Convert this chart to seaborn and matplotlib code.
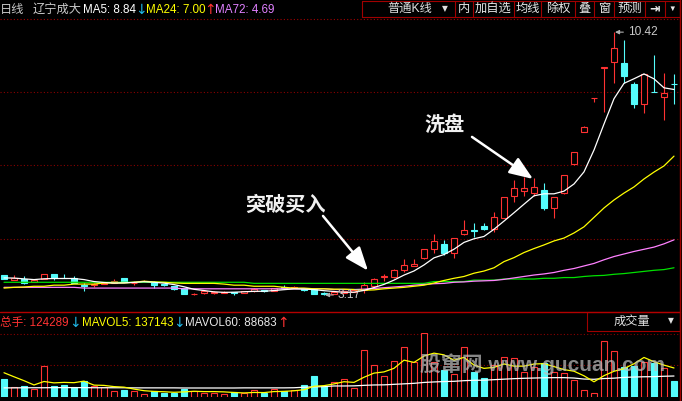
import numpy as np
import pandas as pd
import matplotlib
matplotlib.use("Agg")
import matplotlib.pyplot as plt
import seaborn as sns
from matplotlib.lines import Line2D
from matplotlib.patches import Rectangle

# =========================
# Data
# =========================
period_label = "日线"
stock_name = "辽宁成大"

opens = [3.71, 3.58, 3.62, 3.53, 3.62, 3.74, 3.65, 3.65, 3.45, 3.44,
         3.47, 3.51, 3.64, 3.50, 3.55, 3.53, 3.46, 3.42, 3.35, 3.19,
         3.22, 3.22, 3.23, 3.24, 3.23, 3.27, 3.31, 3.29, 3.39, 3.37,
         3.33, 3.34, 3.23, 3.20, 3.23, 3.26, 3.31, 3.43, 3.67, 3.66,
         3.86, 3.98, 4.18, 4.43, 4.58, 4.34, 4.84, 4.95, 5.07, 4.98,
         5.29, 5.90, 6.04, 5.99, 6.07, 5.56, 5.97, 6.77, 7.67, 8.59,
         9.44, 9.60, 9.58, 8.99, 8.44, 8.78, 8.62, 9.00]
highs = [3.72, 3.71, 3.69, 3.60, 3.76, 3.75, 3.74, 3.69, 3.51, 3.49,
         3.52, 3.60, 3.65, 3.56, 3.57, 3.56, 3.47, 3.43, 3.36, 3.22,
         3.30, 3.27, 3.27, 3.26, 3.28, 3.36, 3.32, 3.37, 3.44, 3.42,
         3.34, 3.35, 3.25, 3.25, 3.28, 3.33, 3.54, 3.65, 3.74, 3.89,
         4.16, 4.16, 4.44, 4.84, 4.69, 4.75, 5.24, 5.15, 5.15, 5.47,
         5.87, 6.34, 6.43, 6.39, 6.25, 5.87, 6.49, 7.11, 7.82, 8.59,
         9.46, 10.42, 10.20, 9.05, 9.27, 9.79, 9.30, 9.26]
lows = [3.60, 3.57, 3.47, 3.52, 3.61, 3.58, 3.63, 3.50, 3.27, 3.39,
        3.46, 3.50, 3.52, 3.44, 3.54, 3.36, 3.43, 3.32, 3.19, 3.18,
        3.21, 3.21, 3.22, 3.18, 3.22, 3.26, 3.26, 3.28, 3.34, 3.35,
        3.29, 3.19, 3.17, 3.19, 3.22, 3.25, 3.22, 3.42, 3.56, 3.65,
        3.79, 3.98, 4.17, 4.34, 4.27, 4.18, 4.83, 4.76, 4.95, 4.92,
        5.28, 5.74, 5.90, 5.90, 5.51, 5.30, 5.96, 6.75, 7.66, 8.50,
        8.22, 9.01, 9.01, 8.32, 8.20, 8.77, 8.01, 8.44]
closes = [3.60, 3.64, 3.51, 3.58, 3.75, 3.64, 3.64, 3.51, 3.43, 3.48,
          3.51, 3.56, 3.53, 3.51, 3.56, 3.44, 3.44, 3.33, 3.21, 3.21,
          3.27, 3.26, 3.26, 3.23, 3.27, 3.33, 3.27, 3.36, 3.35, 3.38,
          3.30, 3.20, 3.21, 3.24, 3.27, 3.31, 3.45, 3.60, 3.68, 3.86,
          4.00, 4.02, 4.43, 4.66, 4.32, 4.73, 4.96, 4.93, 4.98, 5.31,
          5.86, 6.11, 6.11, 6.14, 5.58, 5.86, 6.48, 7.10, 7.81, 8.59,
          9.45, 9.97, 9.22, 8.44, 9.26, 8.77, 8.73, 8.99]
prev_closes = [3.66, 3.62, 3.68, 3.64]   # 4 days before the window, for MA5

ma24 = [3.36, 3.38, 3.39, 3.41, 3.41, 3.44, 3.44, 3.47, 3.47, 3.47,
        3.50, 3.50, 3.50, 3.52, 3.55, 3.53, 3.52, 3.50, 3.49, 3.49,
        3.49, 3.49, 3.47, 3.44, 3.44, 3.41, 3.41, 3.41, 3.38, 3.36,
        3.36, 3.34, 3.34, 3.33, 3.33, 3.32, 3.30, 3.31, 3.34, 3.36,
        3.38, 3.41, 3.44, 3.50, 3.57, 3.63, 3.68, 3.77, 3.83, 3.92,
        4.09, 4.20, 4.34, 4.45, 4.55, 4.66, 4.74, 4.88, 5.05, 5.31,
        5.57, 5.79, 5.98, 6.15, 6.37, 6.56, 6.73, 7.00]
ma72 = [3.38, 3.38, 3.38, 3.38, 3.38, 3.38, 3.38, 3.38, 3.36, 3.36,
        3.36, 3.36, 3.36, 3.36, 3.36, 3.36, 3.36, 3.36, 3.34, 3.34,
        3.34, 3.34, 3.34, 3.34, 3.34, 3.34, 3.34, 3.34, 3.34, 3.34,
        3.34, 3.34, 3.34, 3.32, 3.32, 3.32, 3.33, 3.35, 3.37, 3.39,
        3.41, 3.44, 3.46, 3.48, 3.49, 3.52, 3.53, 3.55, 3.56, 3.57,
        3.60, 3.64, 3.68, 3.72, 3.75, 3.79, 3.85, 3.90, 3.97, 4.04,
        4.14, 4.23, 4.30, 4.37, 4.43, 4.49, 4.58, 4.69]
ma_long = [3.52, 3.52, 3.52, 3.52, 3.52, 3.52, 3.52, 3.52, 3.52, 3.52,
           3.52, 3.52, 3.52, 3.52, 3.52, 3.52, 3.52, 3.52, 3.52, 3.52,
           3.52, 3.52, 3.52, 3.52, 3.52, 3.49, 3.49, 3.49, 3.49, 3.49,
           3.49, 3.49, 3.49, 3.49, 3.49, 3.49, 3.49, 3.49, 3.49, 3.49,
           3.49, 3.49, 3.49, 3.54, 3.54, 3.54, 3.54, 3.58, 3.58, 3.58,
           3.61, 3.61, 3.61, 3.61, 3.63, 3.63, 3.65, 3.65, 3.68, 3.70,
           3.71, 3.74, 3.76, 3.79, 3.82, 3.85, 3.87, 3.92]

volumes = [140000, 74000, 85000, 61000, 243000, 85000, 93000, 74000, 122000, 85000,
           74000, 45000, 53000, 45000, 21000, 45000, 32000, 32000, 61000, 45000,
           32000, 32000, 21000, 37000, 27000, 51000, 27000, 61000, 45000, 51000,
           93000, 164000, 85000, 114000, 138000, 67000, 367000, 249000, 162000, 280000,
           391000, 277000, 502000, 277000, 211000, 177000, 391000, 196000, 148000, 251000,
           312000, 304000, 196000, 233000, 264000, 196000, 185000, 132000, 51000, 27000,
           439000, 359000, 238000, 243000, 277000, 269000, 225000, 124289]
prev_volumes = [234000, 240000, 231000, 105000]   # for MAVOL5
mavol60 = [70, 70, 71, 71, 71, 72, 72, 72, 72, 71,
           71, 71, 71, 70, 70, 70, 70, 70, 69, 69,
           69, 69, 69, 69, 70, 70, 70, 70, 70, 71,
           75, 78, 80, 85, 85, 86, 90, 93, 94, 98,
           102, 106, 113, 117, 120, 122, 127, 130, 131, 135,
           139, 143, 146, 148, 150, 151, 151, 148, 140, 138,
           144, 147, 153, 156, 158, 159, 162, 164]   # thousand lots

hdr_total = 124289
hdr_mavol5 = 137143
hdr_mavol60 = 88683

toolbar_labels = ["内", "加自选", "均线", "除权", "叠", "窗", "预测", "⇥", "▼"]
watermark = "股窜网 www.gucuan.com"

# =========================
# Frame
# =========================
df = pd.DataFrame({"idx": np.arange(len(closes)), "open": opens, "high": highs,
                   "low": lows, "close": closes, "ma24": ma24, "ma72": ma72,
                   "ma_long": ma_long, "vol": volumes,
                   "mavol60": np.array(mavol60) * 1000})
df["ma5"] = pd.Series(prev_closes + closes).rolling(5).mean().iloc[4:].values
df["mavol5"] = pd.Series(prev_volumes + volumes).rolling(5).mean().iloc[4:].values
df["up"] = df["close"] >= df["open"]

RED = "#ff3232"
CYAN = "#54fcfc"
YELLOW = "#ffff00"
PINK = "#ff80ff"
GREEN = "#00e000"
FRAME = "#a00000"
GRID = "#8a0000"
ARROW_DN = "#20b8e8"

W, H = 682, 401
def fx(px): return px / W
def fy(py): return 1 - py / H

sns.set_style("dark", {"axes.facecolor": "black", "figure.facecolor": "black",
                       "axes.edgecolor": "black"})
plt.rcParams["font.family"] = ["Liberation Sans", "Noto Sans CJK SC", "DejaVu Sans"]

fig = plt.figure(figsize=(W / 100, H / 100), dpi=100, facecolor="black")

def clean(a):
    a.set_facecolor("black")
    a.grid(False)
    a.set_xticks([]); a.set_yticks([])
    a.set_xlabel(""); a.set_ylabel("")
    for s in a.spines.values():
        s.set_visible(False)

# =========================
# Price panel
# =========================
ax = fig.add_axes([0, fy(312), 679.5 / W, 294 / H])
lo, hi = 2.70, 10.81
ax.set_xlim(-0.4, 67.55)
ax.set_ylim(lo, hi)
for k in (1, 2, 3):
    ax.axhline(lo + (hi - lo) * k / 4, color=GRID, lw=0.8, ls=(0, (1, 2)), zorder=1)

up, dn = df[df["up"]], df[~df["up"]]
ax.vlines(df["idx"], df["low"], df["high"],
          colors=np.where(df["up"], RED, CYAN), lw=0.8, zorder=2)
ax.bar(up["idx"], up["close"] - up["open"], bottom=up["open"], width=0.6,
       facecolor="black", edgecolor=RED, lw=0.8, zorder=3)
ax.bar(dn["idx"], dn["open"] - dn["close"], bottom=dn["close"], width=0.6,
       facecolor=CYAN, edgecolor=CYAN, lw=0.8, zorder=3)

for col, c in [("ma_long", GREEN), ("ma72", PINK), ("ma24", YELLOW), ("ma5", "white")]:
    sns.lineplot(data=df, x="idx", y=col, ax=ax, color=c, lw=0.9,
                 estimator=None, legend=False, zorder=4)

# highest / lowest markers
imax = int(df["high"].idxmax()); imin = int(df["low"].idxmin())
for i, val in [(imax, df["high"].max()), (imin, df["low"].min())]:
    ax.annotate(f"{val:.2f}", xy=(i + 0.1, val), xytext=(i + 1.4, val),
                color="#c8c8c8", fontsize=8.6, va="center", ha="left",
                arrowprops=dict(arrowstyle="-|>", color="#b0b0b0", lw=0.8,
                                mutation_scale=6, shrinkA=1, shrinkB=0), zorder=6)

# annotations
big_arrow = dict(arrowstyle="-|>,head_length=0.9,head_width=0.35", color="white",
                 lw=1.8, mutation_scale=16, shrinkA=0, shrinkB=0)
ax.text(28.1, 5.68, "突破买入", color="#f0f0f0", fontsize=14.5, fontweight="bold",
        ha="center", va="center", family=["Noto Sans CJK SC"], zorder=6)
ax.annotate("", xy=(36.4, 3.84), xytext=(31.9, 5.35), arrowprops=big_arrow, zorder=6)
ax.text(44.05, 7.88, "洗盘", color="#f0f0f0", fontsize=14.5, fontweight="bold",
        ha="center", va="center", family=["Noto Sans CJK SC"], zorder=6)
ax.annotate("", xy=(52.9, 6.37), xytext=(46.8, 7.53), arrowprops=big_arrow, zorder=6)
clean(ax)

# =========================
# Volume panel
# =========================
axv = fig.add_axes([0, fy(396.7), 679.5 / W, (396.7 - 333.0) / H])
vmax = 505000
axv.set_xlim(-0.4, 67.55)
axv.set_ylim(0, vmax)
for f in (0.5, 0.985):
    axv.axhline(vmax * f, color=GRID, lw=0.8, ls=(0, (1, 2)), zorder=1)
axv.bar(up["idx"], up["vol"], width=0.62, facecolor="black", edgecolor=RED, lw=0.8, zorder=2)
axv.bar(dn["idx"], dn["vol"], width=0.62, facecolor=CYAN, edgecolor=CYAN, lw=0.8, zorder=2)
sns.lineplot(data=df, x="idx", y="mavol60", ax=axv, color="white", lw=0.9,
             estimator=None, legend=False, zorder=3)
sns.lineplot(data=df, x="idx", y="mavol5", ax=axv, color=YELLOW, lw=0.9,
             estimator=None, legend=False, zorder=3)
clean(axv)

fig.text(fx(420), fy(364), watermark, color="#bdbdbd", alpha=0.72,
         fontsize=15, fontweight="bold", ha="left", va="center", zorder=5)

# =========================
# Frame lines and headers
# =========================
def fline(x0, y0, x1, y1, **kw):
    fig.add_artist(Line2D([fx(x0), fx(x1)], [fy(y0), fy(y1)], **kw))

fline(0, 19.3, 680, 19.3, color=FRAME, lw=0.8, ls=(0, (1, 2)))
fline(0, 312, 680, 312, color="#b40000", lw=1.0)
fline(679.5, 0, 679.5, 401, color=FRAME, lw=1.0)

# toolbar
borders = [361.7, 455, 472.7, 514, 540.7, 575.3, 594.3, 614, 645, 665, 680]
fline(borders[0], 0.5, borders[-1], 0.5, color=FRAME, lw=0.8)
fline(borders[0], 16.5, borders[-1], 16.5, color=FRAME, lw=0.8)
for b in borders:
    fline(b, 0.5, b, 16.5, color=FRAME, lw=0.8)
fig.text(fx(410), fy(9), "普通K线", color="#e0e0e0", fontsize=8.8, ha="center", va="center")
fig.text(fx(445), fy(8.5), "▼", color="#e0e0e0", fontsize=5.5, ha="center", va="center",
         family=["DejaVu Sans"])
for lab, a, b in zip(toolbar_labels, borders[1:-1], borders[2:]):
    fs = 8.8 if lab not in ("⇥", "▼") else (9 if lab == "⇥" else 5.5)
    fig.text(fx((a + b) / 2), fy(9), lab, color="#e8e8e8", fontsize=fs,
             ha="center", va="center",
             fontweight="bold" if lab == "⇥" else "normal")

# price header
hy = fy(10)
fig.text(fx(0), hy, period_label, color="#c8c8c8", fontsize=8.8, va="center")
fig.text(fx(33), hy, stock_name, color="#c8c8c8", fontsize=8.8, va="center")
fig.text(fx(83), hy, f"MA5: {df['ma5'].iloc[-1]:.2f}", color="white", fontsize=8.4, va="center")
fig.text(fx(135.5), hy, "↓", color=ARROW_DN, fontsize=10, va="center", family=["DejaVu Sans"])
fig.text(fx(146), hy, f"MA24: {ma24[-1]:.2f}", color=YELLOW, fontsize=8.4, va="center")
fig.text(fx(204.5), hy, "↑", color=RED, fontsize=10, va="center", family=["DejaVu Sans"])
fig.text(fx(215), hy, f"MA72: {ma72[-1]:.2f}", color="#e080ff", fontsize=8.4, va="center")

# volume header
vy = fy(323)
fig.text(fx(0), vy, f"总手: {hdr_total}", color=RED, fontsize=8.4, va="center")
fig.text(fx(69.5), vy, "↓", color=ARROW_DN, fontsize=10, va="center", family=["DejaVu Sans"])
fig.text(fx(82), vy, f"MAVOL5: {hdr_mavol5}", color=YELLOW, fontsize=8.4, va="center")
fig.text(fx(173.5), vy, "↓", color=ARROW_DN, fontsize=10, va="center", family=["DejaVu Sans"])
fig.text(fx(185), vy, f"MAVOL60: {hdr_mavol60}", color="#e8e8e8", fontsize=8.4, va="center")
fig.text(fx(277), vy, "↑", color=RED, fontsize=10, va="center", family=["DejaVu Sans"])

fig.add_artist(Rectangle((fx(587), fy(331)), (680 - 587) / W, (331 - 312) / H,
                         fill=False, edgecolor=FRAME, lw=0.8))
fig.text(fx(632), fy(322), "成交量", color="#e0e0e0", fontsize=8.8, ha="center", va="center")
fig.text(fx(671), fy(321), "▼", color="#e0e0e0", fontsize=5.5, ha="center", va="center",
         family=["DejaVu Sans"])

fig.savefig("out.png", dpi=100, facecolor="black")
